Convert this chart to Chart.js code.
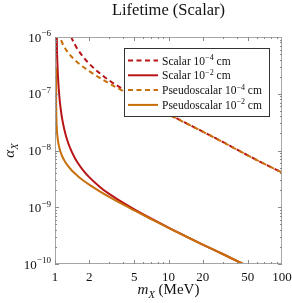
<!DOCTYPE html>
<html>
<head>
<meta charset="utf-8">
<script src="https://cdn.jsdelivr.net/npm/chart.js@4.4.1/dist/chart.umd.min.js"></script>
<style>
  html, body { margin: 0; padding: 0; background: #fff; }
</style>
</head>
<body>
<canvas id="lifetimeChart" width="292" height="303"></canvas>
<script>
// mass of X in MeV
const masses = [1.0221, 1.023, 1.025, 1.03, 1.04, 1.05, 1.06, 1.08, 1.1, 1.13, 1.16, 1.2, 1.25, 1.3, 1.4, 1.5, 1.6, 1.8, 2, 2.5, 3, 4, 5, 7, 10, 15, 20, 30, 50, 70, 100];
// alpha_X for each lifetime (null = far above the plot)
const scalar4 = [null, null, null, null, null, null, null, null, null, null, null, null, null, 1.40e-6, 9.62e-7, 7.31e-7, 5.90e-7, 4.28e-7, 3.39e-7, 2.26e-7, 1.72e-7, 1.19e-7, 9.17e-8, 6.34e-8, 4.37e-8, 2.89e-8, 2.16e-8, 1.42e-8, 8.2e-9, 5.8e-9, 4.1e-9];
const scalar2 = [null, null, null, 2.17e-6, 6.5e-7, 3.39e-7, 2.17e-7, 1.18e-7, 7.72e-8, 4.90e-8, 3.50e-8, 2.49e-8, 1.80e-8, 1.40e-8, 9.62e-9, 7.31e-9, 5.90e-9, 4.28e-9, 3.39e-9, 2.26e-9, 1.72e-9, 1.19e-9, 9.17e-10, 6.34e-10, 4.37e-10, 2.92e-10, 2.2e-10, 1.5e-10, 9.1e-11, 6.6e-11, 4.7e-11];
const pseudo4 = [null, null, null, null, null, null, null, 1.23e-6, 1.057e-6, 8.92e-7, 7.84e-7, 6.84e-7, 5.97e-7, 5.35e-7, 4.49e-7, 3.92e-7, 3.49e-7, 2.90e-7, 2.50e-7, 1.885e-7, 1.525e-7, 1.112e-7, 8.79e-8, 6.21e-8, 4.32e-8, 2.87e-8, 2.15e-8, 1.41e-8, 8.2e-9, 5.8e-9, 4.1e-9];
const pseudo2 = [3.0e-7, 9.5e-8, 5.49e-8, 3.36e-8, 2.23e-8, 1.785e-8, 1.53e-8, 1.23e-8, 1.057e-8, 8.92e-9, 7.84e-9, 6.84e-9, 5.97e-9, 5.35e-9, 4.49e-9, 3.92e-9, 3.49e-9, 2.90e-9, 2.50e-9, 1.885e-9, 1.525e-9, 1.112e-9, 8.79e-10, 6.21e-10, 4.32e-10, 2.9e-10, 2.2e-10, 1.5e-10, 9.1e-11, 6.6e-11, 4.7e-11];

const seriesLabels = ['Scalar 10^\u22124 cm', 'Scalar 10^\u22122 cm', 'Pseudoscalar 10^\u22124 cm', 'Pseudoscalar 10^\u22122 cm'];
const xTickLabels = [1, 2, 5, 10, 20, 50, 100];
const yTickLabels = [1e-10, 1e-9, 1e-8, 1e-7, 1e-6];
const yTickText = ['10^\u221210', '10^\u22129', '10^\u22128', '10^\u22127', '10^\u22126'];

const RED = '#b81417';
const ORANGE = '#c86e0a';
const SERIF = '"Liberation Serif", "Times New Roman", "DejaVu Serif", serif';

function points(values) {
    return masses.map((m, i) => ({ x: m, y: values[i] })).filter(p => p.y !== null);
}

// 'Scalar 10^-4 cm' -> normal / superscript pieces
function parts(str) {
    return str.split(/(\^\S+)/).filter(s => s).map(s => s[0] === '^' ? { t: s.slice(1), sup: true } : { t: s });
}

function richText(ctx, segs, x, y, size, align) {
    const fontFor = s => (s.i ? 'italic ' : '') + ((s.sup || s.sub) ? size * 0.7 : size) + 'px ' + SERIF;
    let w = 0;
    segs.forEach(s => { ctx.font = fontFor(s); w += ctx.measureText(s.t).width; });
    let cx = align === 'right' ? x - w : align === 'center' ? x - w / 2 : x;
    ctx.textAlign = 'left';
    ctx.textBaseline = 'alphabetic';
    segs.forEach(s => {
        ctx.font = fontFor(s);
        const dy = s.sup ? -size * 0.4 : s.sub ? size * 0.25 : 0;
        ctx.fillText(s.t, cx, y + dy);
        cx += ctx.measureText(s.t).width;
    });
}

const framePlugin = {
    id: 'frame',
    afterDatasetsDraw(chart) {
        const { ctx, chartArea: a, scales: { x, y } } = chart;
        ctx.save();

        // frame
        ctx.strokeStyle = '#a6a6a6';
        ctx.lineWidth = 1;
        ctx.strokeRect(a.left + 0.5, a.top + 0.5, a.right - a.left - 1, a.bottom - a.top - 1);

        // ticks, inside, on all four sides
        ctx.strokeStyle = '#8a8a8a';
        ctx.beginPath();
        for (let d = 1; d <= 10; d *= 10) {
            for (let k = 1; k <= 9; k++) {
                const v = k * d;
                const px = Math.round(x.getPixelForValue(v)) + 0.5;
                const len = xTickLabels.includes(v) ? 4 : 2;
                ctx.moveTo(px, a.bottom); ctx.lineTo(px, a.bottom - len);
                ctx.moveTo(px, a.top); ctx.lineTo(px, a.top + len);
            }
        }
        for (let e = -10; e < -6; e++) {
            for (let k = 1; k <= 9; k++) {
                const v = k * Math.pow(10, e);
                const py = Math.round(y.getPixelForValue(v)) + 0.5;
                const len = k === 1 ? 4 : 2;
                ctx.moveTo(a.left, py); ctx.lineTo(a.left + len, py);
                ctx.moveTo(a.right, py); ctx.lineTo(a.right - len, py);
            }
        }
        ctx.stroke();

        // tick labels
        ctx.fillStyle = '#111';
        xTickLabels.forEach(v => {
            richText(ctx, [{ t: String(v) }], x.getPixelForValue(v), a.bottom + 17, 13, 'center');
        });
        yTickLabels.forEach((v, i) => {
            richText(ctx, parts(yTickText[i]), a.left - 4, y.getPixelForValue(v) + 4.5, 13, 'right');
        });

        // title and axis titles
        richText(ctx, [{ t: 'Lifetime (Scalar)' }], (a.left + a.right) / 2, 15, 16.5, 'center');
        richText(ctx, [{ t: 'm', i: true }, { t: 'X', i: true, sub: true }, { t: ' (MeV)' }],
            (a.left + a.right) / 2, 294, 15, 'center');
        ctx.save();
        ctx.translate(14, (a.top + a.bottom) / 2);
        ctx.rotate(-Math.PI / 2);
        richText(ctx, [{ t: '\u03b1', i: true }, { t: 'X', i: true, sub: true }], 0, 0, 15, 'center');
        ctx.restore();

        // legend box inside the plot
        const box = { left: 124, top: 48, width: 146, height: 69 };
        ctx.fillStyle = '#fff';
        ctx.fillRect(box.left, box.top, box.width, box.height);
        ctx.strokeStyle = '#333';
        ctx.strokeRect(box.left + 0.5, box.top + 0.5, box.width - 1, box.height - 1);
        chart.data.datasets.forEach((ds, i) => {
            const ry = box.top + 12.5 + i * 14.8;
            ctx.strokeStyle = ds.borderColor;
            ctx.lineWidth = 2;
            ctx.setLineDash(ds.borderDash || []);
            ctx.beginPath();
            ctx.moveTo(box.left + 4, ry);
            ctx.lineTo(box.left + 34, ry);
            ctx.stroke();
            ctx.setLineDash([]);
            ctx.fillStyle = '#111';
            richText(ctx, parts(ds.label), box.left + 38, ry + 4, 11.5, 'left');
        });
        ctx.restore();
    }
};

const ctx = document.getElementById('lifetimeChart').getContext('2d');
const lifetimeChart = new Chart(ctx, {
    type: 'line',
    data: {
        datasets: [{
            label: seriesLabels[0],
            data: points(scalar4),
            borderColor: RED,
            borderDash: [5, 3.5],
            order: 2
        }, {
            label: seriesLabels[1],
            data: points(scalar2),
            borderColor: RED,
            order: 2
        }, {
            label: seriesLabels[2],
            data: points(pseudo4),
            borderColor: ORANGE,
            borderDash: [5, 3.5],
            order: 1
        }, {
            label: seriesLabels[3],
            data: points(pseudo2),
            borderColor: ORANGE,
            order: 1
        }]
    },
    options: {
        responsive: false,
        animation: false,
        layout: { padding: { left: 55, top: 37, right: 10, bottom: 39 } },
        elements: {
            point: { radius: 0 },
            line: { borderWidth: 2, cubicInterpolationMode: 'monotone', fill: false }
        },
        datasets: { line: { clip: 0 } },
        scales: {
            x: { type: 'logarithmic', min: 1, max: 100, display: false },
            y: { type: 'logarithmic', min: 1e-10, max: 1e-6, display: false }
        },
        plugins: {
            legend: { display: false },
            title: { display: false },
            tooltip: { enabled: false }
        }
    },
    plugins: [framePlugin]
});
</script>
</body>
</html>
